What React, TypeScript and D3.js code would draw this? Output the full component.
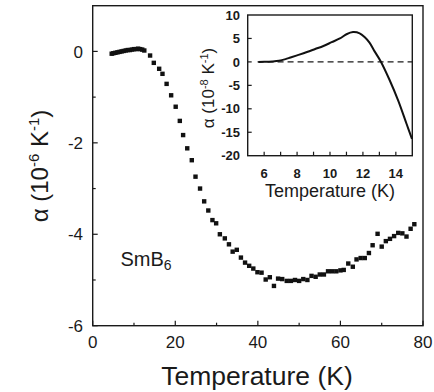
import { useEffect, useRef } from "react"
import * as d3 from "d3"

// main panel: thermal expansion of SmB6
const mainTemps = [
  4.6, 5.0, 5.5, 6.0, 6.5, 7.0, 7.5, 8.0, 8.5, 9.0, 9.5, 10.0, 10.5, 11.0, 11.5, 12.0, 12.5,
  13.9, 14.8, 16.1, 16.9, 17.9, 19.0, 20.1, 21.1, 21.9, 22.9, 24.0, 24.9, 26.0, 27.0, 28.0,
  29.0, 29.9, 30.8, 32.0, 33.0, 33.9, 34.9, 35.9, 36.9, 37.9, 38.9, 39.9, 40.9, 41.9, 42.9,
  43.9, 44.9, 45.9, 47.0, 48.0, 49.0, 50.0, 51.0, 52.0, 53.0, 54.0, 55.0, 56.0, 57.0, 58.0,
  59.0, 60.0, 60.8, 61.9, 63.0, 63.9, 64.9, 65.9, 66.9, 67.8, 69.0, 70.0, 71.0, 72.0, 73.0,
  74.0, 75.0, 76.0, 77.0, 77.9,
]
const mainAlpha = [
  -0.05, -0.04, -0.03, -0.02, -0.01, 0.0, 0.01, 0.02, 0.03, 0.03, 0.04, 0.05, 0.05, 0.06, 0.05, 0.04, 0.02,
  -0.09, -0.25, -0.38, -0.49, -0.71, -0.96, -1.21, -1.52, -1.83, -2.12, -2.38, -2.74, -3.0, -3.28, -3.48,
  -3.69, -3.76, -4.0, -4.09, -4.22, -4.38, -4.34, -4.51, -4.62, -4.69, -4.75, -4.83, -4.84, -4.99, -4.94,
  -5.13, -4.97, -4.98, -5.02, -5.02, -5.0, -5.02, -4.98, -5.0, -4.91, -4.93, -4.88, -4.88, -4.81, -4.81,
  -4.81, -4.79, -4.78, -4.64, -4.71, -4.55, -4.52, -4.52, -4.41, -4.24, -3.99, -4.27, -4.15, -4.1, -4.04,
  -3.97, -3.98, -4.05, -3.88, -3.78,
]
const mainXTicks = [0, 20, 40, 60, 80]
const mainYTicks = [0, -2, -4, -6]

// inset: low temperature detail
const insetTemps = [
  5.65, 6.0, 6.5, 6.9, 7.3, 7.6, 8.0, 8.6, 9.1, 9.6, 10.1, 10.6, 11.0, 11.4, 11.8, 12.1, 12.4,
  12.7, 13.1, 13.6, 14.15, 14.66, 14.98,
]
const insetAlpha = [
  0, 0.02, 0.1, 0.25, 0.6, 0.95, 1.4, 2.1, 2.75, 3.4, 4.2, 5.0, 5.9, 6.35, 6.1, 5.3, 4.1,
  2.3, 0.0, -3.7, -8.3, -13.3, -16.4,
]
const insetXTicks = [6, 8, 10, 12, 14]
const insetYTicks = [10, 5, 0, -5, -10, -15, -20]

const FONT = "'Liberation Sans', Arial, sans-serif"
const INK = "#1a1a1a"

export default function App() {
  const svgRef = useRef<SVGSVGElement>(null)

  useEffect(() => {
    if (!svgRef.current) return
    const svg = d3.select(svgRef.current)
    svg.selectAll("*").remove()

    const x = d3.scaleLinear().domain([0, 80]).range([92.7, 423])
    const y = d3.scaleLinear().domain([-6, 1]).range([325.7, 5.7])

    const g = svg.append("g").style("font-family", FONT).attr("fill", INK)

    // main frame
    g.append("rect")
      .attr("x", x(0)).attr("y", y(1))
      .attr("width", x(80) - x(0)).attr("height", y(-6) - y(1))
      .attr("fill", "none").attr("stroke", INK).attr("stroke-width", 1.4)

    // ticks (inward)
    d3.range(0, 81, 10).forEach((t) => {
      const len = t % 20 === 0 ? 5 : 3
      g.append("line")
        .attr("x1", x(t)).attr("x2", x(t))
        .attr("y1", y(-6)).attr("y2", y(-6) - len)
        .attr("stroke", INK).attr("stroke-width", 1.2)
    })
    d3.range(-6, 1, 1).forEach((v) => {
      const len = v % 2 === 0 ? 5 : 3
      g.append("line")
        .attr("x1", x(0)).attr("x2", x(0) + len)
        .attr("y1", y(v)).attr("y2", y(v))
        .attr("stroke", INK).attr("stroke-width", 1.2)
    })

    g.selectAll(".xl")
      .data(mainXTicks)
      .enter()
      .append("text")
      .attr("x", (d) => x(d))
      .attr("y", 348)
      .attr("text-anchor", "middle")
      .style("font-size", "17px")
      .text((d) => String(d))

    g.selectAll(".yl")
      .data(mainYTicks)
      .enter()
      .append("text")
      .attr("x", 83)
      .attr("y", (d) => y(d))
      .attr("dy", "0.36em")
      .attr("text-anchor", "end")
      .style("font-size", "17px")
      .text((d) => (d < 0 ? `-${Math.abs(d)}` : String(d)))

    // axis titles
    g.append("text")
      .attr("x", 257).attr("y", 385)
      .attr("text-anchor", "middle")
      .style("font-size", "26.5px")
      .text("Temperature (K)")

    const yt = g.append("text")
      .attr("transform", "translate(48,166) rotate(-90)")
      .attr("text-anchor", "middle")
      .style("font-size", "24px")
    yt.append("tspan").text("α (10")
    yt.append("tspan").attr("dy", -9).style("font-size", "15px").text("-6")
    yt.append("tspan").attr("dy", 9).text(" K")
    yt.append("tspan").attr("dy", -9).style("font-size", "15px").text("-1")
    yt.append("tspan").attr("dy", 9).text(")")

    const lab = g.append("text").attr("x", 120.5).attr("y", 266).style("font-size", "20px")
    lab.append("tspan").text("SmB")
    lab.append("tspan").attr("dy", 4).style("font-size", "14px").text("6")

    // data squares
    const pts = mainTemps.map((t, i) => ({ t, a: mainAlpha[i] }))
    const s = 4.4
    g.selectAll(".pt")
      .data(pts)
      .enter()
      .append("rect")
      .attr("x", (d) => x(d.t) - s / 2)
      .attr("y", (d) => y(d.a) - s / 2)
      .attr("width", s)
      .attr("height", s)
      .attr("fill", "#111")

    // inset
    const ix = d3.scaleLinear().domain([5, 15]).range([247.7, 412.3])
    const iy = d3.scaleLinear().domain([-20, 10]).range([155.7, 15])

    g.append("rect")
      .attr("x", ix(5)).attr("y", iy(10))
      .attr("width", ix(15) - ix(5)).attr("height", iy(-20) - iy(10))
      .attr("fill", "white").attr("stroke", INK).attr("stroke-width", 1.4)

    d3.range(6, 15, 1).forEach((t) => {
      g.append("line")
        .attr("x1", ix(t)).attr("x2", ix(t))
        .attr("y1", iy(-20)).attr("y2", iy(-20) - 4)
        .attr("stroke", INK).attr("stroke-width", 1.2)
    })
    insetYTicks.slice(1, -1).forEach((v) => {
      g.append("line")
        .attr("x1", ix(5)).attr("x2", ix(5) + 4)
        .attr("y1", iy(v)).attr("y2", iy(v))
        .attr("stroke", INK).attr("stroke-width", 1.2)
    })

    g.selectAll(".ixl")
      .data(insetXTicks)
      .enter()
      .append("text")
      .attr("x", (d) => ix(d))
      .attr("y", 178)
      .attr("text-anchor", "middle")
      .style("font-size", "13px")
      .style("font-weight", "bold")
      .text((d) => String(d))

    g.selectAll(".iyl")
      .data(insetYTicks)
      .enter()
      .append("text")
      .attr("x", 240)
      .attr("y", (d) => iy(d))
      .attr("dy", "0.36em")
      .attr("text-anchor", "end")
      .style("font-size", "13px")
      .style("font-weight", "bold")
      .text((d) => (d < 0 ? `-${Math.abs(d)}` : String(d)))

    g.append("text")
      .attr("x", 330).attr("y", 197)
      .attr("text-anchor", "middle")
      .style("font-size", "18px")
      .text("Temperature (K)")

    const iyt = g.append("text")
      .attr("transform", "translate(214,88) rotate(-90)")
      .attr("text-anchor", "middle")
      .style("font-size", "17px")
    iyt.append("tspan").text("α (10")
    iyt.append("tspan").attr("dy", -6).style("font-size", "11px").text("-8")
    iyt.append("tspan").attr("dy", 6).text(" K")
    iyt.append("tspan").attr("dy", -6).style("font-size", "11px").text("-1")
    iyt.append("tspan").attr("dy", 6).text(")")

    // zero reference
    g.append("line")
      .attr("x1", ix(5.6)).attr("x2", ix(15))
      .attr("y1", iy(0)).attr("y2", iy(0))
      .attr("stroke", INK).attr("stroke-width", 1.3)
      .attr("stroke-dasharray", "6,4")

    const line = d3
      .line<number>()
      .x((d, i) => ix(insetTemps[i]))
      .y((d) => iy(d))
      .curve(d3.curveCatmullRom)

    g.append("path")
      .attr("d", line(insetAlpha))
      .attr("fill", "none")
      .attr("stroke", "#111")
      .attr("stroke-width", 2)
  }, [])

  return (
    <svg
      ref={svgRef}
      width={434}
      height={392}
      style={{ position: "absolute", left: 0, top: 0, background: "white" }}
    />
  )
}
